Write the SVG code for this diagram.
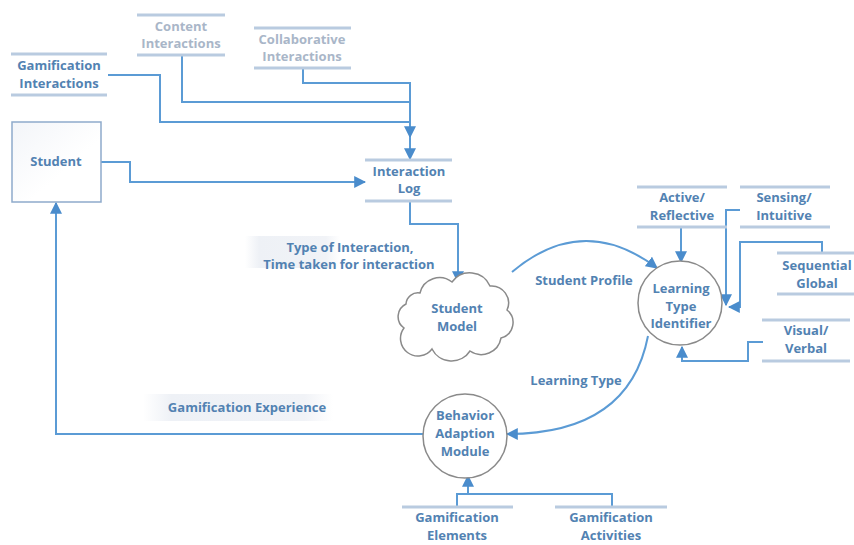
<svg xmlns="http://www.w3.org/2000/svg" width="854" height="545" viewBox="0 0 854 545">
<defs>
<style>
.t{font-family:"Open Sans","Liberation Sans",sans-serif;font-weight:bold;font-size:13px;fill:#5282b2;text-anchor:middle}
.tg{fill:#a9b6c8}
.st{stroke:#b9cbe0;stroke-width:3;fill:none}
.c{stroke:#5b9bd5;stroke-width:2;fill:none}
.ca{stroke:#5b9bd5;stroke-width:2;fill:none;marker-end:url(#ah)}
.nd{fill:#fff;stroke:#8a8a8a;stroke-width:1.5}
</style>
<marker id="ah" viewBox="0 0 10 10" refX="9" refY="5" markerWidth="6" markerHeight="6" markerUnits="strokeWidth" orient="auto">
<path d="M0,0 L10,5 L0,10 z" fill="#4a8ccc"/>
</marker>
<linearGradient id="lbg" x1="0" y1="0" x2="1" y2="0">
<stop offset="0" stop-color="#ffffff"/>
<stop offset="0.15" stop-color="#eef1f6"/>
<stop offset="0.85" stop-color="#f1f3f7"/>
<stop offset="1" stop-color="#ffffff"/>
</linearGradient>
<linearGradient id="sbg" x1="0" y1="0" x2="1" y2="1">
<stop offset="0" stop-color="#f3f5f9"/>
<stop offset="0.6" stop-color="#ffffff"/>
</linearGradient>
</defs>
<rect width="854" height="545" fill="#ffffff"/>

<g id="connectors">
<path class="c" d="M108,75 H160 V122 H410"/>
<path class="c" d="M182,55 V102 H410"/>
<path class="ca" d="M303,68 V83 H410 V137"/>
<path class="ca" d="M410,137 V159"/>
<path class="ca" d="M101,162 H130 V182 H365"/>
<path class="ca" d="M410,201 V224 H458 V282"/>
<path class="ca" d="M512,272 Q583,212 657,268"/>
<path class="ca" d="M648,336 C636,398 592,434 507,434"/>
<path class="ca" d="M423,434 H56 V203"/>
<path class="c" d="M457,507 V494 H612 V507"/>
<path class="ca" d="M468,494 V476"/>
<path class="ca" d="M681,228 V262"/>
<path class="ca" d="M740,210 H726 V305"/>
<path class="ca" d="M822,253 V242 H740 V307 H729"/>
<path class="ca" d="M763,342 H748 V361 H682 V347"/>
<rect x="245" y="236" width="95" height="32" fill="url(#lbg)"/>
<text class="t" x="350" y="252">Type of Interaction,</text>
<text class="t" x="349" y="269">Time taken for interaction</text>
<rect x="143" y="394" width="190" height="27" fill="url(#lbg)"/>
<text class="t" x="247" y="412">Gamification Experience</text>
<text class="t" x="584" y="285">Student Profile</text>
<text class="t" x="576" y="385">Learning Type</text>
</g>

<g id="content-interactions">
<line class="st" x1="137" y1="15" x2="225" y2="15"/>
<line class="st" x1="137" y1="55" x2="225" y2="55"/>
<text class="t tg" x="181" y="31">Content</text>
<text class="t tg" x="181" y="48">Interactions</text>
</g>
<g id="collaborative-interactions">
<line class="st" x1="254" y1="28" x2="351" y2="28"/>
<line class="st" x1="254" y1="68" x2="351" y2="68"/>
<text class="t tg" x="302" y="44">Collaborative</text>
<text class="t tg" x="302" y="61">Interactions</text>
</g>
<g id="gamification-interactions">
<line class="st" x1="11" y1="54" x2="107" y2="54"/>
<line class="st" x1="11" y1="95" x2="107" y2="95"/>
<text class="t" x="59" y="70">Gamification</text>
<text class="t" x="59" y="88">Interactions</text>
</g>
<g id="student">
<rect x="12" y="122" width="89" height="80" fill="url(#sbg)" stroke="#8eaacb" stroke-width="1.5"/>
<text class="t" x="56" y="166">Student</text>
</g>
<g id="interaction-log">
<line class="st" x1="365" y1="160" x2="452" y2="160"/>
<line class="st" x1="365" y1="201" x2="452" y2="201"/>
<text class="t" x="409" y="176">Interaction</text>
<text class="t" x="409" y="193">Log</text>
</g>
<g id="student-model">
<path class="nd" d="M420,293 A20,20 0 0 1 452,282 A22,22 0 0 1 490,286 A17,17 0 0 1 507,310 A16,16 0 0 1 501,338 A20,20 0 0 1 470,351 A22,22 0 0 1 432,349 A17,17 0 0 1 404,328 A14,14 0 0 1 406,304 A12,12 0 0 1 420,293 Z"/>
<text class="t" x="457" y="313">Student</text>
<text class="t" x="457" y="331">Model</text>
</g>
<g id="learning-type-identifier">
<circle class="nd" cx="680" cy="303" r="42"/>
<text class="t" x="681" y="293">Learning</text>
<text class="t" x="681" y="311">Type</text>
<text class="t" x="681" y="328">Identifier</text>
</g>
<g id="active-reflective">
<line class="st" x1="637" y1="187" x2="727" y2="187"/>
<line class="st" x1="637" y1="227" x2="727" y2="227"/>
<text class="t" x="682" y="202">Active/</text>
<text class="t" x="682" y="220">Reflective</text>
</g>
<g id="sensing-intuitive">
<line class="st" x1="740" y1="187" x2="830" y2="187"/>
<line class="st" x1="740" y1="227" x2="830" y2="227"/>
<text class="t" x="784" y="202">Sensing/</text>
<text class="t" x="784" y="220">Intuitive</text>
</g>
<g id="sequential-global">
<line class="st" x1="777" y1="253" x2="854" y2="253"/>
<line class="st" x1="777" y1="294" x2="854" y2="294"/>
<text class="t" x="817" y="270">Sequential</text>
<text class="t" x="817" y="288">Global</text>
</g>
<g id="visual-verbal">
<line class="st" x1="762" y1="320" x2="850" y2="320"/>
<line class="st" x1="762" y1="361" x2="850" y2="361"/>
<text class="t" x="806" y="335">Visual/</text>
<text class="t" x="806" y="353">Verbal</text>
</g>
<g id="behavior-adaption-module">
<circle class="nd" cx="465" cy="436" r="42"/>
<text class="t" x="465" y="420">Behavior</text>
<text class="t" x="465" y="438">Adaption</text>
<text class="t" x="465" y="456">Module</text>
</g>
<g id="gamification-elements">
<line class="st" x1="402" y1="507" x2="513" y2="507"/>
<text class="t" x="457" y="522">Gamification</text>
<text class="t" x="457" y="540">Elements</text>
</g>
<g id="gamification-activities">
<line class="st" x1="555" y1="507" x2="667" y2="507"/>
<text class="t" x="611" y="522">Gamification</text>
<text class="t" x="611" y="540">Activities</text>
</g>
</svg>
